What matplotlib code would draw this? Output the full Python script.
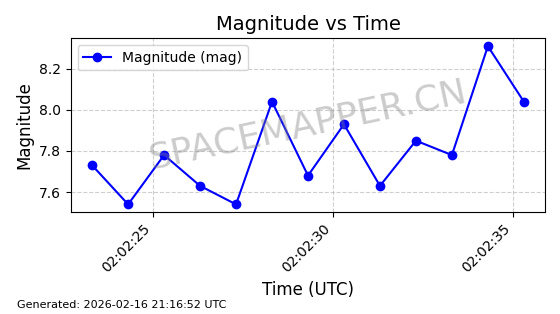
import matplotlib
matplotlib.use("Agg")
import matplotlib.pyplot as plt
import matplotlib.dates as mdates
import pandas as pd

start = pd.Timestamp("2026-02-16 02:02:23.3")
seconds = [0, 1, 2, 3, 4, 5, 6, 7, 8, 9, 10, 11, 12]
times = [start + pd.Timedelta(seconds=s) for s in seconds]
magnitudes = [7.73, 7.54, 7.78, 7.63, 7.54, 8.04, 7.68, 7.93, 7.63, 7.85, 7.78, 8.31, 8.04]

fig = plt.figure(figsize=(5.6, 3.14), dpi=100)
ax = fig.add_axes([0.126, 0.324, 0.848, 0.554])
ax.plot(times, magnitudes, marker='o', color='blue', linestyle='-', markersize=6, label='Magnitude (mag)')
ax.set_title('Magnitude vs Time', fontsize=14)
ax.set_xlabel('Time (UTC)', fontsize=12)
ax.set_ylabel('Magnitude', fontsize=12)
ax.grid(True, linestyle='--', alpha=0.6)
ax.legend(loc='upper left')
ax.xaxis.set_major_locator(mdates.SecondLocator(bysecond=range(0, 60, 5)))
ax.xaxis.set_major_formatter(mdates.DateFormatter('%H:%M:%S'))
plt.setp(ax.get_xticklabels(), rotation=45, ha='right')
ax.text(0.5, 0.5, 'SPACEMAPPER.CN', transform=ax.transAxes, fontsize=26,
        color='gray', alpha=0.4, rotation=12, ha='center', va='center')
fig.text(0.03, 0.02, 'Generated: 2026-02-16 21:16:52 UTC', fontsize=8)
fig.savefig('out.png', dpi=100)
